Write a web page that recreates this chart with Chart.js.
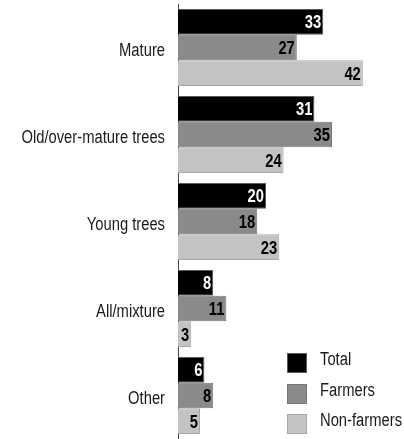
<!DOCTYPE html>
<html>
<head>
<meta charset="utf-8">
<script src="https://cdn.jsdelivr.net/npm/chart.js@4.4.1/dist/chart.umd.min.js"></script>
<style>
  html, body { margin: 0; padding: 0; background: #ffffff; }
  #wrap { width: 404px; height: 439px; position: relative; }
</style>
</head>
<body>
<div id="wrap"><canvas id="c" width="404" height="439"></canvas></div>
<script>
const categories = ["Mature", "Old/over-mature trees", "Young trees", "All/mixture", "Other"];
const totalValues = [33, 31, 20, 8, 6];
const farmerValues = [27, 35, 18, 11, 8];
const nonFarmerValues = [42, 24, 23, 3, 5];
const seriesNames = ["Total", "Farmers", "Non-farmers"];

const FONT = "'Liberation Sans', Arial, sans-serif";
const SQUEEZE = 0.82;

function narrowText(ctx, text, x, y, align) {
  ctx.save();
  ctx.translate(x, y);
  ctx.scale(SQUEEZE, 1);
  ctx.textAlign = align;
  ctx.fillText(text, 0, 0);
  ctx.restore();
}

const categoryLabels = {
  id: 'categoryLabels',
  afterDraw(chart) {
    const ctx = chart.ctx;
    const ys = chart.scales.y;
    ctx.save();
    ctx.font = "18px " + FONT;
    ctx.textBaseline = 'middle';
    ctx.fillStyle = '#1a1a1a';
    chart.data.labels.forEach((lab, i) => {
      narrowText(ctx, lab, ys.right - 13, ys.getPixelForTick(i) + 3.5, 'right');
    });
    ctx.restore();
  }
};

const valueLabels = {
  id: 'valueLabels',
  afterDatasetsDraw(chart) {
    const ctx = chart.ctx;
    ctx.save();
    ctx.font = "bold 18px " + FONT;
    ctx.textBaseline = 'middle';
    chart.data.datasets.forEach((ds, di) => {
      const meta = chart.getDatasetMeta(di);
      meta.data.forEach((el, i) => {
        ctx.fillStyle = di === 0 ? '#ffffff' : '#000000';
        narrowText(ctx, String(ds.data[i]), el.x - 2, el.y + 1.5, 'right');
      });
    });
    ctx.restore();
  }
};

const boxLegend = {
  id: 'boxLegend',
  afterDraw(chart) {
    const ctx = chart.ctx;
    const a = chart.chartArea;
    const x0 = a.left + 109;
    const tops = [353, 384, 414];
    ctx.save();
    ctx.font = "18px " + FONT;
    ctx.textBaseline = 'middle';
    chart.data.datasets.forEach((ds, di) => {
      const y = tops[di];
      ctx.fillStyle = ds.backgroundColor;
      ctx.fillRect(x0, y, 20, 20);
      ctx.strokeStyle = ds.borderColor;
      ctx.lineWidth = 1;
      ctx.strokeRect(x0 + 0.5, y + 0.5, 19, 19);
      ctx.fillStyle = '#1a1a1a';
      narrowText(ctx, ds.label, x0 + 33, y + 7.5, 'left');
    });
    ctx.restore();
  }
};

new Chart(document.getElementById('c'), {
  type: 'bar',
  data: {
    labels: categories,
    datasets: [
      { label: seriesNames[0], data: totalValues, backgroundColor: '#000000', borderColor: '#5a5a5a' },
      { label: seriesNames[1], data: farmerValues, backgroundColor: '#8a8a8a', borderColor: '#787878' },
      { label: seriesNames[2], data: nonFarmerValues, backgroundColor: '#c3c3c3', borderColor: '#a8a8a8' }
    ]
  },
  options: {
    indexAxis: 'y',
    responsive: false,
    animation: false,
    devicePixelRatio: 1,
    layout: { padding: { top: 4, bottom: 0, left: 0, right: 6 } },
    datasets: {
      bar: { categoryPercentage: 0.885, barPercentage: 1.0, borderWidth: 1, borderSkipped: 'start' }
    },
    plugins: { legend: { display: false }, tooltip: { enabled: false }, title: { display: false } },
    scales: {
      x: { display: false, min: 0, max: 50 },
      y: {
        grid: { display: false, drawTicks: false },
        border: { display: true, color: '#444444', width: 1 },
        ticks: { display: false },
        afterFit(scale) { scale.width = 178; scale.paddingTop = 0; scale.paddingBottom = 0; }
      }
    }
  },
  plugins: [valueLabels, categoryLabels, boxLegend]
});
</script>
</body>
</html>
